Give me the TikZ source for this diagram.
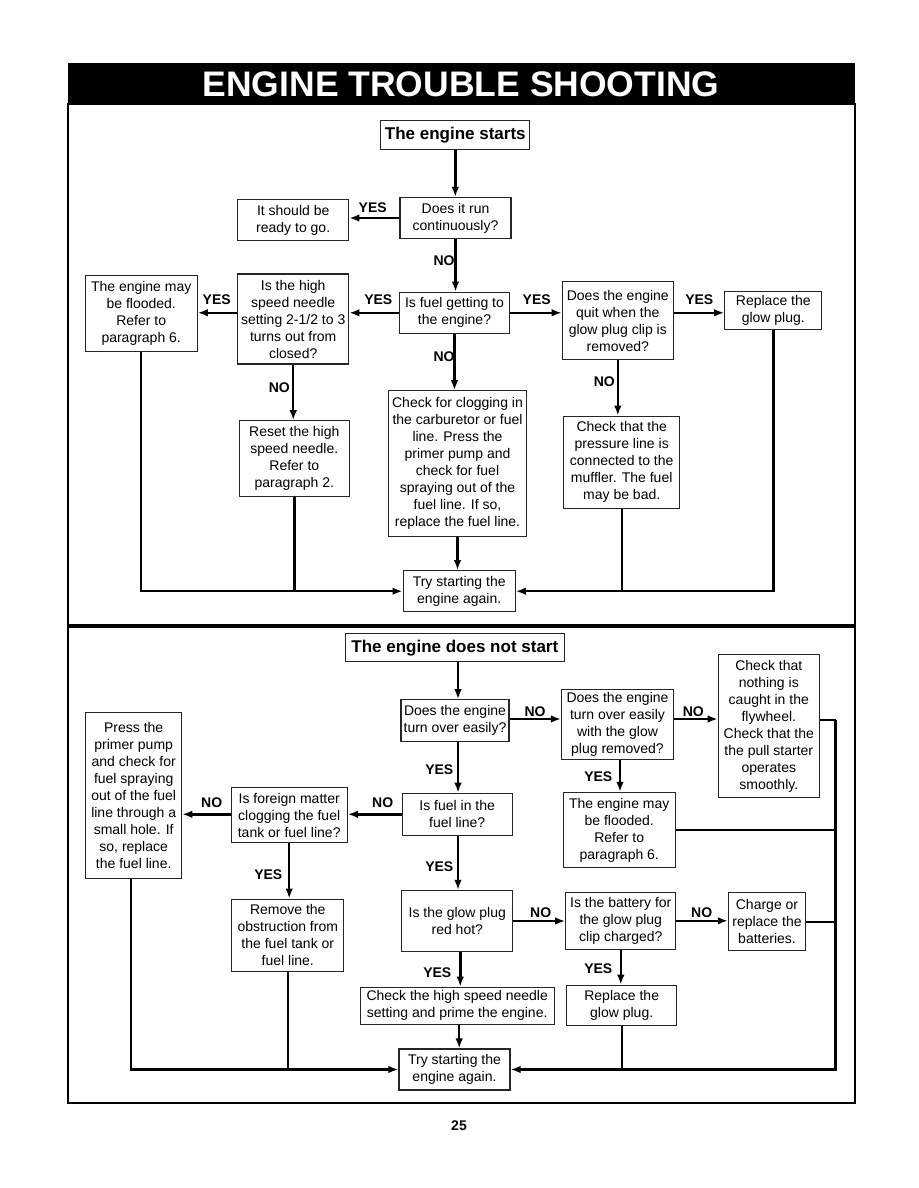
\documentclass[tikz,border=0pt]{standalone}
\usepackage{fontspec}
\setmainfont{Liberation Sans}
\usetikzlibrary{arrows.meta}
\newcommand\fsz{\fontsize{14}{17}\selectfont}
\newcommand\hsz{\fontsize{17}{20}\selectfont}
\begin{document}
\begin{tikzpicture}[x=1pt,y=-1pt,
 box/.style={draw=black!85, line width=1.2pt, align=center, inner sep=0pt, font=\fsz},
 hbox/.style={box, font=\bfseries\hsz},
 conn/.style={line width=2.4pt},
 arr/.style={conn,-{Latex[length=10pt,width=7.5pt]}},
 lab/.style={font=\bfseries\fsz, inner sep=0pt}]
\useasboundingbox (0,0) rectangle (918,1188);
\fill[white] (0,0) rectangle (918,1188);
% frame
\fill[black] (68,63) rectangle (855,104);
\draw[line width=1.5pt] (68,104) rectangle (855,1103);
\draw[line width=4pt] (68,626) -- (855,626);
\node[font=\bfseries\fontsize{35.5}{40}\selectfont, text=white, inner sep=0pt] (title) at (461,84) {ENGINE TROUBLE SHOOTING};
\node[font=\bfseries\fsz, inner sep=0pt] (pg) at (459,1126) {25};

% ---------- top section ----------
\node[hbox, minimum width=149, minimum height=29] (start) at (455.3,134.7) {The engine starts};
\node[box, minimum width=111, minimum height=41] (run) at (455.5,218) {Does it run\\continuously?};
\node[box, minimum width=111, minimum height=41] (ready) at (293.2,220) {It should be\\ready to go.};
\node[box, minimum width=110, minimum height=41] (fuel) at (454.5,312.8) {Is fuel getting to\\the engine?};
\node[box, minimum width=111, minimum height=90] (hsn) at (293.2,319) {Is the high\\speed needle\\setting 2-1/2 to 3\\turns out from\\closed?};
\node[box, minimum width=112, minimum height=76] (flood1) at (141.2,313.7) {The engine may\\be flooded.\\Refer to\\paragraph 6.};
\node[box, minimum width=111, minimum height=78] (quit) at (617.8,320.5) {Does the engine\\quit when the\\glow plug clip is\\removed?};
\node[box, minimum width=97, minimum height=38] (glow1) at (773.3,310.8) {Replace the\\glow plug.};
\node[box, minimum width=138, minimum height=146] (clog) at (457.5,463.8) {Check for clogging in\\the carburetor or fuel\\line. Press the\\primer pump and\\check for fuel\\spraying out of the\\fuel line. If so,\\replace the fuel line.};
\node[box, minimum width=110, minimum height=76] (reset) at (294.3,458.8) {Reset the high\\speed needle.\\Refer to\\paragraph 2.};
\node[box, minimum width=116, minimum height=92] (pressure) at (621.7,462.2) {Check that the\\pressure line is\\connected to the\\muffler. The fuel\\may be bad.};
\node[box, minimum width=112, minimum height=41] (try1) at (459.2,591.2) {Try starting the\\engine again.};

\draw[arr] (start.south) -- (start.south |- run.north);
\draw[arr] (run.west) -- (run.west -| ready.east);
\draw[arr] (run.south) -- (run.south |- fuel.north);
\draw[arr] (fuel.west) -- (fuel.west -| hsn.east);
\draw[arr] (hsn.west |- fuel.west) -- (hsn.west |- fuel.west -| flood1.east);
\draw[arr] (fuel.east) -- (fuel.east -| quit.west);
\draw[arr] (quit.east |- fuel.east) -- (fuel.east -| glow1.west);
\draw[arr] (fuel.south) -- (fuel.south |- clog.north);
\draw[arr] (hsn.south) -- (hsn.south |- reset.north);
\draw[arr] (quit.south) -- (quit.south |- pressure.north);
\draw[arr] (clog.south) -- (clog.south |- try1.north);
\draw[arr] (flood1.south) |- (try1.west);
\draw[conn] (reset.south) -- (reset.south |- try1.west);
\draw[arr] (glow1.south) |- (try1.east);
\draw[conn] (pressure.south) -- (pressure.south |- try1.east);

\node[lab] (y1) at (372.7,207.3) {YES};
\node[lab] (n1) at (444,261) {NO};
\node[lab] (y2) at (216.7,299.3) {YES};
\node[lab] (y3) at (378.3,299.3) {YES};
\node[lab] (y4) at (536.7,300) {YES};
\node[lab] (y5) at (699.3,300) {YES};
\node[lab] (n2) at (444,356.7) {NO};
\node[lab] (n3) at (279.3,387.7) {NO};
\node[lab] (n4) at (604.3,381.7) {NO};

% ---------- bottom section ----------
\node[hbox, minimum width=219, minimum height=28] (nostart) at (454.8,647.8) {The engine does not start};
\node[box, minimum width=108, minimum height=42] (turn) at (455,720.8) {Does the engine\\turn over easily?};
\node[box, minimum width=112, minimum height=70] (turnglow) at (617.5,724.3) {Does the engine\\turn over easily\\with the glow\\plug removed?};
\node[box, minimum width=101, minimum height=143] (flywheel) at (768.8,726.3) {Check that\\nothing is\\caught in the\\flywheel.\\Check that the\\the pull starter\\operates\\smoothly.};
\node[box, minimum width=112, minimum height=75] (flood2) at (619.2,830) {The engine may\\be flooded.\\Refer to\\paragraph 6.};
\node[box, minimum width=110, minimum height=42] (fuelline) at (457.2,814.3) {Is fuel in the\\fuel line?};
\node[box, minimum width=116, minimum height=55] (foreign) at (289.2,815.3) {Is foreign matter\\clogging the fuel\\tank or fuel line?};
\node[box, minimum width=96, minimum height=166] (primer) at (133.7,795.2) {Press the\\primer pump\\and check for\\fuel spraying\\out of the fuel\\line through a\\small hole. If\\so, replace\\the fuel line.};
\node[box, minimum width=112, minimum height=72] (remove) at (287.8,935.2) {Remove the\\obstruction from\\the fuel tank or\\fuel line.};
\node[box, minimum width=111, minimum height=61] (redhot) at (457.3,921) {Is the glow plug\\red hot?};
\node[box, minimum width=110, minimum height=57] (battery) at (620.8,920.8) {Is the battery for\\the glow plug\\clip charged?};
\node[box, minimum width=77, minimum height=58] (charge) at (767,921.7) {Charge or\\replace the\\batteries.};
\node[box, minimum width=194, minimum height=37] (checkhsn) at (457.2,1005.8) {Check the high speed needle\\setting and prime the engine.};
\node[box, minimum width=110, minimum height=40] (glow2) at (621.7,1005.3) {Replace the\\glow plug.};
\node[box, minimum width=111, minimum height=41] (try2) at (454.5,1069.5) {Try starting the\\engine again.};
\coordinate (rc) at (835.5,720);

\draw[arr] (nostart.south -| turn.north) ++(3,0) coordinate (a1) (a1) -- (a1 |- turn.north);
\draw[arr] (turn.east |- 0,719) coordinate (b1) (b1) -- (b1 -| turnglow.west);
\draw[arr] (turnglow.east |- 0,719) coordinate (b2) (b2) -- (b2 -| flywheel.west);
\draw[conn] (flywheel.east |- rc) -- (rc);
\draw[arr] (rc) |- (try2.east);
\draw[conn] (flood2.east) -- (flood2.east -| rc);
\draw[conn] (charge.east) -- (charge.east -| rc);
\draw[arr] (turnglow.south) ++(2.5,0) coordinate (a2) (a2) -- (a2 |- flood2.north);
\draw[arr] (a1 |- turn.south) -- (a1 |- fuelline.north);
\draw[arr] (fuelline.west) -- (fuelline.west -| foreign.east);
\draw[arr] (foreign.west |- fuelline.west) -- (foreign.west |- fuelline.west -| primer.east);
\draw[arr] (foreign.south) -- (foreign.south |- remove.north);
\draw[arr] (a1 |- fuelline.south) -- (a1 |- redhot.north);
\draw[arr] (redhot.east) -- (redhot.east -| battery.west);
\draw[arr] (battery.east) -- (battery.east -| charge.west);
\draw[arr] (redhot.south) ++(3,0) coordinate (a3) (a3) -- (a3 |- checkhsn.north);
\draw[arr] (battery.south) -- (battery.south |- glow2.north);
\draw[arr] (checkhsn.south) ++(2,0) coordinate (a4) (a4) -- (a4 |- try2.north);
\draw[arr] (primer.south) ++(-3,0) coordinate (a5) (a5) |- (try2.west);
\draw[conn] (remove.south) -- (remove.south |- try2.west);
\draw[conn] (glow2.south) -- (glow2.south |- try2.east);

\node[lab] (n5) at (535,711.7) {NO};
\node[lab] (n6) at (693.3,711.7) {NO};
\node[lab] (y6) at (439.3,770) {YES};
\node[lab] (y7) at (598.3,776.7) {YES};
\node[lab] (n7) at (382.7,802.7) {NO};
\node[lab] (n8) at (211.7,802.7) {NO};
\node[lab] (y8) at (268.3,875) {YES};
\node[lab] (y9) at (439.3,866.7) {YES};
\node[lab] (n9) at (540.7,912.3) {NO};
\node[lab] (n10) at (701.7,912.3) {NO};
\node[lab] (y10) at (437.3,972.3) {YES};
\node[lab] (y11) at (598.3,969) {YES};
\end{tikzpicture}
\end{document}
